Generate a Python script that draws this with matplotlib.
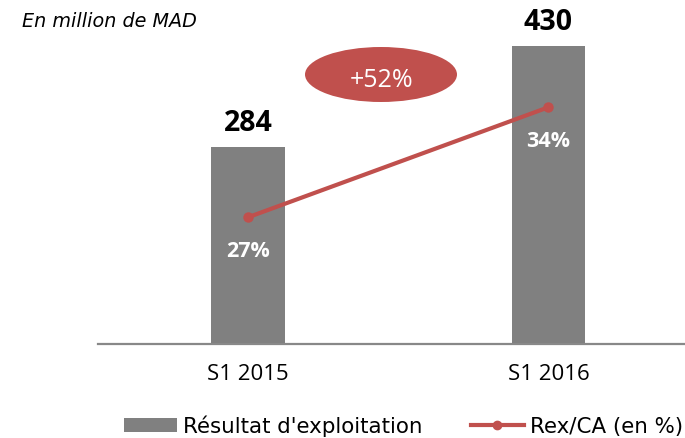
import matplotlib
matplotlib.use("Agg")
import matplotlib.pyplot as plt
from matplotlib.patches import Ellipse, Patch
from matplotlib.lines import Line2D

plt.rcParams['font.family'] = ['Open Sans', 'DejaVu Sans']

# Data
periods = ["S1 2015", "S1 2016"]
resultat = [284, 430]          # Résultat d'exploitation, en million de MAD
marge = [27, 34]               # Rex/CA (en %)
croissance = "+52%"
bar_label = "Résultat d'exploitation"
line_label = "Rex/CA (en %)"
unit_note = "En million de MAD"

GRAY = "#808080"
RED = "#C0504D"
WIDE = ['DejaVu Sans']

W, H = 685, 439
fig = plt.figure(figsize=(W / 100, H / 100), dpi=100)

# axes in pixel terms: x 98..685, y 20..345 (from top)
ax = fig.add_axes([98 / W, 1 - 345 / H, (685 - 98) / W, (345 - 20) / H])
x = list(range(len(periods)))
ax.bar(x, resultat, width=0.245, color=GRAY, zorder=2)
ax.set_xlim(-0.5, 1.455)
ax.set_ylim(0, 469.7)

for xi, v in zip(x, resultat):
    ax.annotate(f"{v}", (xi, v), xytext=(0, 12.5), textcoords="offset points",
                ha="center", va="baseline", fontsize=20.5, fontweight="bold",
                color="black")

ax.set_xticks(x)
ax.set_xticklabels(periods, fontsize=16)
ax.tick_params(axis="x", length=0, pad=14)
ax.set_yticks([])
for s in ["top", "right", "left"]:
    ax.spines[s].set_visible(False)
ax.spines["bottom"].set_color("#888888")
ax.spines["bottom"].set_linewidth(1.6)

# secondary axis for the margin line
ax2 = ax.twinx()
ax2.set_ylim(18.93, 39.62)
ax2.plot(x, marge, color=RED, lw=3, marker="o", markersize=6.5, zorder=3)
ax2.set_yticks([])
for s in ax2.spines.values():
    s.set_visible(False)
for xi, v in zip(x, marge):
    ax2.annotate(f"{v}%", (xi, v), xytext=(0, -27.9), textcoords="offset points",
                 ha="center", va="baseline", fontsize=15.5, fontweight="bold",
                 color="white")

# growth bubble
ell = Ellipse((381 / W, 1 - 75.5 / H), 152 / W, 55 / H, transform=fig.transFigure,
              facecolor=RED, edgecolor="none")
fig.patches.append(ell)
fig.text(381.5 / W, 1 - 87 / H, croissance, ha="center", va="baseline",
         fontsize=18, color="white")

# unit note
fig.text(22 / W, 1 - 27 / H, unit_note, ha="left", va="baseline",
         fontsize=13.8, style="italic", color="black", family=WIDE)

handles = [Patch(facecolor=GRAY, edgecolor="none", label=bar_label),
           Line2D([0], [0], color=RED, lw=3, marker="o", markersize=6, label=line_label)]
fig.legend(handles=handles, loc="center left", bbox_to_anchor=(124 / W, 1 - 426.5 / H),
           ncol=2, frameon=False, prop={'family': WIDE, 'size': 15.4},
           borderpad=0, borderaxespad=0,
           handlelength=2.5, handleheight=0.62, handletextpad=0.26, columnspacing=2.25)

fig.savefig("out.png", dpi=100)
